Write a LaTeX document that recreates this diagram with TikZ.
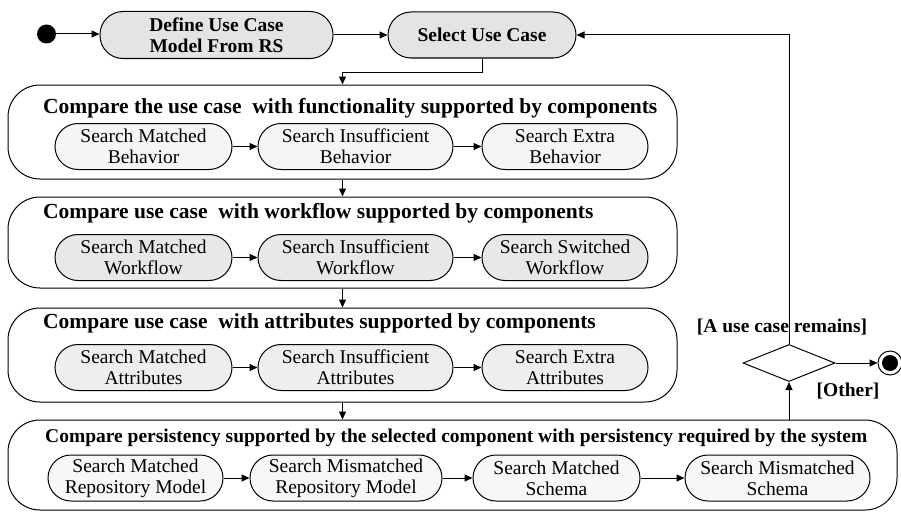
\documentclass[tikz,border=0pt]{standalone}
\usepackage{fontspec}
\setmainfont{Liberation Serif}
\usetikzlibrary{arrows.meta,shapes.geometric}
\definecolor{topfill}{HTML}{E4E4E4}
\definecolor{funcfill}{HTML}{F5F5F5}
\definecolor{flowfill}{HTML}{E8E8E8}
\definecolor{attrfill}{HTML}{EEEEEE}
\definecolor{persfill}{HTML}{F7F7F7}
\begin{document}
\begin{tikzpicture}[x=1pt,y=-1pt,
  txt/.style={font=\fontsize{19.5}{21}\selectfont},
  pill/.style={txt, draw, line width=1pt, rounded corners=23pt, align=center, inner sep=0pt},
  topact/.style={pill, fill=topfill, font=\fontsize{19.5}{21}\selectfont\bfseries},
  subact/.style={pill, minimum height=46pt},
  group/.style={draw, line width=1pt, rounded corners=32pt, fill=white, inner sep=0pt},
  grouptitle/.style={font=\fontsize{21.5}{23}\selectfont\bfseries, anchor=west, inner sep=0pt},
  guard/.style={font=\fontsize{19.5}{21}\selectfont\bfseries, inner sep=0pt},
  flow/.style={line width=1pt, -{Triangle[length=8pt,width=7pt]}}
]
\useasboundingbox (0,0) rectangle (901,511);

% initial node and top-level actions
\node[circle, fill, minimum size=19pt, inner sep=0pt] (start) at (46.5,34) {};
\node[topact, minimum width=233pt, minimum height=47pt] (define) at (216.5,35) {Define Use Case\\Model From RS};
\node[topact, minimum width=188pt, minimum height=46pt] (select) at (482,35) {Select Use Case};

% composite activity: functionality
\node[group, minimum width=669pt, minimum height=94pt] (box1) at (342.5,132) {};
\node[grouptitle] (t1) at (43,108) {Compare the use case\ \ with functionality supported by components};
\node[subact, fill=funcfill, minimum width=177pt] (f1) at (143.5,146.5) {Search Matched\\Behavior};
\node[subact, fill=funcfill, minimum width=195pt] (f2) at (355.5,146.5) {Search Insufficient\\Behavior};
\node[subact, fill=funcfill, minimum width=166pt] (f3) at (565,146.5) {Search Extra\\Behavior};

% composite activity: workflow
\node[group, minimum width=669pt, minimum height=91pt] (box2) at (342.5,242.5) {};
\node[grouptitle] (t2) at (43,213) {Compare use case\ \ with workflow supported by components};
\node[subact, fill=flowfill, minimum width=177pt] (w1) at (143.5,257.5) {Search Matched\\Workflow};
\node[subact, fill=flowfill, minimum width=195pt] (w2) at (355.5,257.5) {Search Insufficient\\Workflow};
\node[subact, fill=flowfill, minimum width=166pt] (w3) at (565,257.5) {Search Switched\\Workflow};

% composite activity: attributes
\node[group, minimum width=669pt, minimum height=94pt] (box3) at (342.5,355) {};
\node[grouptitle] (t3) at (43,323) {Compare use case\ \ with attributes supported by components};
\node[subact, fill=attrfill, minimum width=177pt] (a1) at (143.5,367.5) {Search Matched\\Attributes};
\node[subact, fill=attrfill, minimum width=195pt] (a2) at (355.5,367.5) {Search Insufficient\\Attributes};
\node[subact, fill=attrfill, minimum width=166pt] (a3) at (565,367.5) {Search Extra\\Attributes};

% composite activity: persistency
\node[group, minimum width=889pt, minimum height=90pt] (box4) at (452.5,465) {};
\node[grouptitle, font=\fontsize{19.5}{21}\selectfont\bfseries] (t4) at (45,438) {Compare persistency supported by the selected component with persistency required by the system};
\node[subact, fill=persfill, minimum width=175pt] (p1) at (135.5,478) {Search Matched\\Repository Model};
\node[subact, fill=persfill, minimum width=192pt] (p2) at (346,478) {Search Mismatched\\Repository Model};
\node[subact, fill=persfill, minimum width=167pt] (p3) at (556.5,478) {Search Matched\\Schema};
\node[subact, fill=persfill, minimum width=185pt] (p4) at (777.5,478) {Search Mismatched\\Schema};

% decision and final node
\node[diamond, draw, line width=1pt, minimum width=92pt, minimum height=37pt, inner sep=0pt] (dec) at (789,363) {};
\node[circle, draw, line width=1pt, minimum size=24pt, inner sep=0pt] (final) at (890,363) {};
\fill (final.center) circle (8pt);
\node[guard] (g1) at (782,327) {[A use case remains]};
\node[guard] (g2) at (848,391) {[Other]};

% control flows
\draw[flow] (start) -- (start -| define.west);
\draw[flow] (define) -- (select);
\draw[flow] (select.south) -- ++(0,14) -| (box1.north);
\draw[flow] (f1) -- (f2);
\draw[flow] (f2) -- (f3);
\draw[flow] (box1.south) -- (box2.north);
\draw[flow] (w1) -- (w2);
\draw[flow] (w2) -- (w3);
\draw[flow] (box2.south) -- (box3.north);
\draw[flow] (a1) -- (a2);
\draw[flow] (a2) -- (a3);
\draw[flow] (box3.south) -- (box3.south |- box4.north);
\draw[flow] (p1) -- (p2);
\draw[flow] (p2) -- (p3);
\draw[flow] (p3) -- (p4);
\draw[flow] (dec.south |- box4.north) -- (dec.south);
\draw[flow] (dec.north) -- (dec.north |- select.east) -- (select.east);
\draw[flow] (dec.east) -- (final.west);
\end{tikzpicture}
\end{document}
